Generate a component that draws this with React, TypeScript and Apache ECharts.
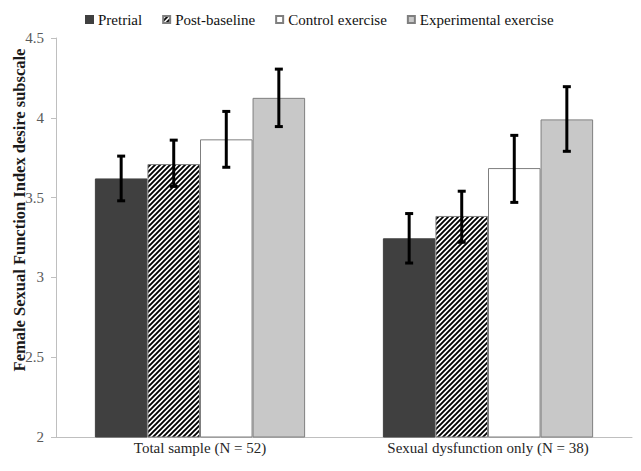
import React, { useEffect, useRef } from "react";
import * as echarts from "echarts";

const categories = ["Total sample (N = 52)", "Sexual dysfunction only (N = 38)"];
const seriesNames = ["Pretrial", "Post-baseline", "Control exercise", "Experimental exercise"];
const pretrial = [3.62, 3.245];
const postBaseline = [3.71, 3.385];
const controlExercise = [3.865, 3.685];
const experimentalExercise = [4.125, 3.99];
const errLow = [
  [3.48, 3.09],
  [3.57, 3.22],
  [3.69, 3.47],
  [3.945, 3.79],
];
const errHigh = [
  [3.76, 3.4],
  [3.86, 3.54],
  [4.04, 3.89],
  [4.305, 4.195],
];
const yMin = 2;
const yMax = 4.5;
const yStep = 0.5;
const yTitle = "Female Sexual Function Index desire subscale";

const GAP = 0.27;
const FONT = "Liberation Serif";

function makeHatch() {
  const s = 5;
  const c = document.createElement("canvas");
  c.width = s;
  c.height = s;
  const ctx = c.getContext("2d")!;
  ctx.fillStyle = "#ffffff";
  ctx.fillRect(0, 0, s, s);
  ctx.strokeStyle = "#000000";
  ctx.lineWidth = 1.9;
  ctx.beginPath();
  ctx.moveTo(-1, s + 1);
  ctx.lineTo(s + 1, -1);
  ctx.moveTo(-2, 2);
  ctx.lineTo(2, -2);
  ctx.moveTo(s - 2, s + 2);
  ctx.lineTo(s + 2, s - 2);
  ctx.stroke();
  return c;
}

export default function App() {
  const ref = useRef<HTMLDivElement>(null);
  useEffect(() => {
    if (!ref.current) return;
    document.body.style.margin = "0";
    const chart = echarts.init(ref.current, null, { renderer: "svg" });
    const values = [pretrial, postBaseline, controlExercise, experimentalExercise];
    const hatch = makeHatch();
    const styles = [
      { color: "#404040", borderColor: "#404040", borderWidth: 1 },
      {
        color: { image: hatch, repeat: "repeat" },
        borderColor: "#7f7f7f",
        borderWidth: 1,
      },
      { color: "#ffffff", borderColor: "#7f7f7f", borderWidth: 1 },
      { color: "#c8c8c8", borderColor: "#7f7f7f", borderWidth: 1 },
    ];
    const errData: number[][] = [];
    for (let s = 0; s < 4; s++) {
      for (let c = 0; c < categories.length; c++) {
        errData.push([c, errLow[s][c], errHigh[s][c], s]);
      }
    }
    const series: any[] = values.map((v, i) => ({
      name: seriesNames[i],
      type: "bar",
      data: v,
      barGap: "0%",
      barCategoryGap: GAP * 100 + "%",
      itemStyle: styles[i],
    }));
    series.push({
      type: "custom",
      data: errData,
      encode: { x: 0, y: [1, 2] },
      z: 10,
      renderItem: (params: any, api: any) => {
        const c = api.value(0);
        const lo = api.value(1);
        const hi = api.value(2);
        const s = api.value(3);
        const catW = api.size([1, 0])[0];
        const barW = (catW * (1 - GAP)) / 4;
        const pLo = api.coord([c, lo]);
        const pHi = api.coord([c, hi]);
        const x = pLo[0] + (s - 1.5) * barW;
        const st = { stroke: "#000", lineWidth: 3 };
        const cap = 4;
        return {
          type: "group",
          children: [
            { type: "line", shape: { x1: x, y1: pLo[1], x2: x, y2: pHi[1] }, style: st },
            { type: "line", shape: { x1: x - cap, y1: pLo[1], x2: x + cap, y2: pLo[1] }, style: st },
            { type: "line", shape: { x1: x - cap, y1: pHi[1], x2: x + cap, y2: pHi[1] }, style: st },
          ],
        };
      },
    });
    chart.setOption({
      animation: false,
      textStyle: { fontFamily: FONT },
      legend: {
        data: seriesNames,
        left: 80,
        top: 7,
        icon: "rect",
        itemWidth: 7,
        itemHeight: 7,
        itemGap: 20,
        textStyle: { fontFamily: FONT, fontSize: 15, color: "#111111" },
      },
      grid: { left: 56, right: 9, top: 38, bottom: 34 },
      xAxis: {
        type: "category",
        data: categories,
        axisLine: { lineStyle: { color: "#bfbfbf", width: 1 } },
        axisTick: { show: false },
        axisLabel: { fontFamily: FONT, fontSize: 15, color: "#262626", margin: 3 },
      },
      yAxis: {
        type: "value",
        min: yMin,
        max: yMax,
        interval: yStep,
        axisLine: { show: true, lineStyle: { color: "#bfbfbf", width: 1 } },
        axisTick: { show: true, length: 5, lineStyle: { color: "#bfbfbf" } },
        splitLine: { show: false },
        axisLabel: { fontFamily: FONT, fontSize: 15, color: "#595959", margin: 12 },
      },
      graphic: [
        {
          type: "text",
          x: 19,
          y: 210,
          rotation: Math.PI / 2,
          style: {
            text: yTitle,
            fontFamily: FONT,
            fontSize: 16.5,
            fontWeight: "bold",
            fill: "#1a1a1a",
            align: "center",
            verticalAlign: "middle",
          },
        },
      ],
      series,
    });
    return () => chart.dispose();
  }, []);
  return <div ref={ref} style={{ width: 641, height: 471 }} />;
}
